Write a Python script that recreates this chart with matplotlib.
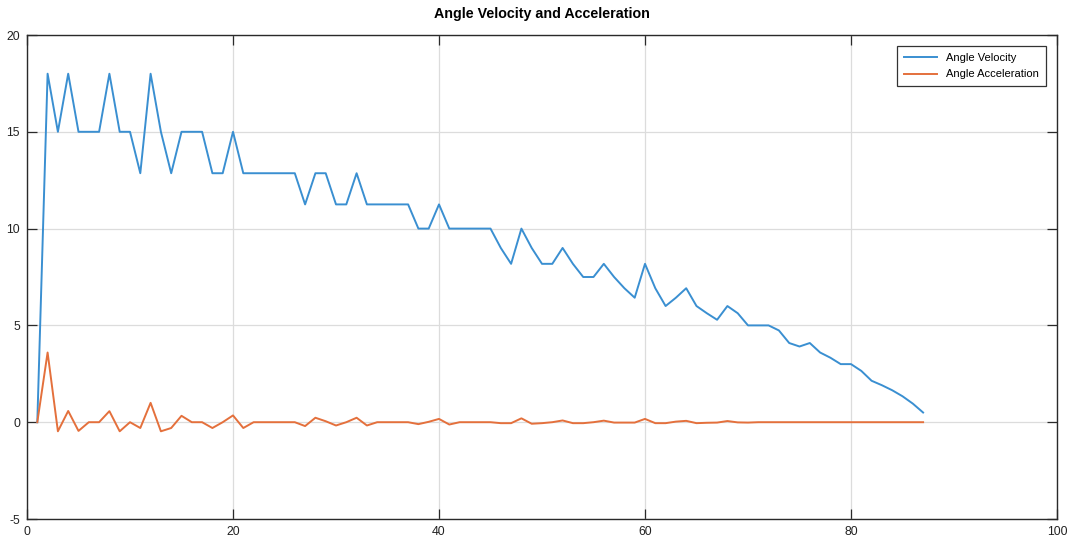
import matplotlib
matplotlib.use("Agg")
import matplotlib.pyplot as plt

plt.rcParams['font.family'] = ['Liberation Sans', 'DejaVu Sans']
plt.rcParams['axes.unicode_minus'] = False

# Sample index (steps)
steps = list(range(1, 88))

# Angular velocity per step
velocity = [
    0, 18, 15, 18, 15, 15, 15, 18, 15, 15,
    12.86, 18, 15, 12.86, 15, 15, 15, 12.86, 12.86, 15,
    12.86, 12.86, 12.86, 12.86, 12.86, 12.86, 11.25, 12.86, 12.86, 11.25,
    11.25, 12.86, 11.25, 11.25, 11.25, 11.25, 11.25, 10, 10, 11.25,
    10, 10, 10, 10, 10, 9, 8.18, 10, 9, 8.18,
    8.18, 9, 8.18, 7.5, 7.5, 8.18, 7.5, 6.92, 6.43, 8.18,
    6.92, 6, 6.43, 6.92, 6, 5.63, 5.29, 6, 5.63, 5,
    5, 5, 4.74, 4.09, 3.91, 4.09, 3.6, 3.33, 3.0, 3.0,
    2.65, 2.14, 1.91, 1.65, 1.34, 0.96, 0.5,
]

# Angular acceleration per step
acceleration = [
    0, 3.6, -0.47, 0.58, -0.45, 0, 0, 0.57, -0.47, 0,
    -0.3, 1.0, -0.47, -0.3, 0.33, 0, 0, -0.3, 0, 0.35,
    -0.3, 0, 0, 0, 0, 0, -0.2, 0.23, 0.05, -0.17,
    0, 0.23, -0.17, 0, 0, 0, 0, -0.1, 0.02, 0.17,
    -0.12, 0, 0, 0, 0, -0.05, -0.05, 0.2, -0.08, -0.05,
    0, 0.09, -0.05, -0.05, 0, 0.08, -0.02, -0.02, -0.02, 0.17,
    -0.05, -0.05, 0.03, 0.07, -0.05, -0.03, -0.02, 0.06, -0.01, -0.02,
    0, 0, 0, 0, 0, 0, 0, 0, 0, 0,
    0, 0, 0, 0, 0, 0, 0,
]

x_ticks = [0, 20, 40, 60, 80, 100]
y_ticks = [-5, 0, 5, 10, 15, 20]

fig = plt.figure(figsize=(10.71, 5.44), dpi=100)
ax = fig.add_axes([27 / 1071, 1 - 519 / 544, 1030 / 1071, 484 / 544])

ax.plot(steps, velocity, color='#3a8fd1', lw=1.4, label='Angle Velocity')
ax.plot(steps, acceleration, color='#e4703c', lw=1.4, label='Angle Acceleration')

ax.set_xlim(0, 100)
ax.set_ylim(-5, 20)
ax.set_xticks(x_ticks)
ax.set_yticks(y_ticks)

ax.grid(True, color='#dcdcdc', lw=0.9)
ax.set_axisbelow(True)
for s in ax.spines.values():
    s.set_color('#2a2a2a')
    s.set_linewidth(1.0)
ax.tick_params(direction='in', length=7, width=0.9, color='#2a2a2a',
               top=True, right=True, labelsize=8.8, labelcolor='#222222', pad=5)

ax.set_title('Angle Velocity and Acceleration', fontsize=10.3, fontweight='bold', pad=12)

leg = ax.legend(loc='upper right', fontsize=8, fancybox=False, framealpha=1,
                edgecolor='#333333', borderaxespad=1.0, handlelength=3.0,
                borderpad=0.6, labelspacing=0.6)
leg.get_frame().set_linewidth(0.9)

fig.savefig('out.png', dpi=100)
